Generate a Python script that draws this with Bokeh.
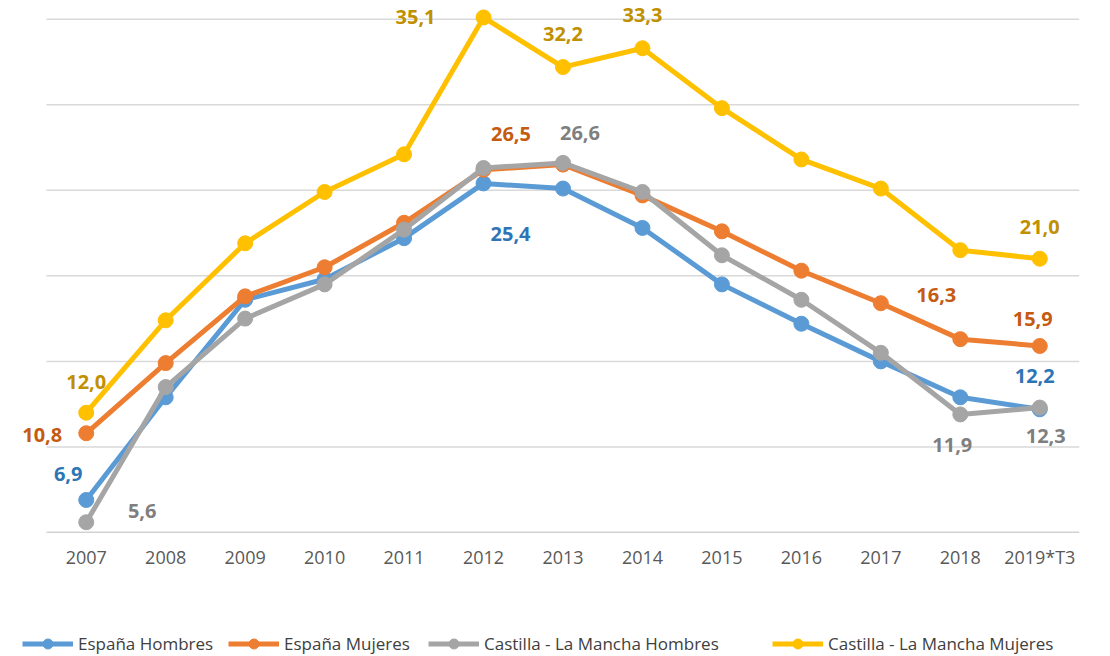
from bokeh.plotting import figure
from bokeh.layouts import column
from bokeh.models import (Range1d, FixedTicker, Legend, LegendItem, ColumnDataSource,
                          LabelSet)
from bokeh.core.properties import value
from bokeh.embed import file_html
from bokeh.resources import INLINE

years = ["2007", "2008", "2009", "2010", "2011", "2012", "2013",
         "2014", "2015", "2016", "2017", "2018", "2019*T3"]

espana_hombres = [6.9, 12.9, 18.6, 19.8, 22.2, 25.4, 25.1, 22.8, 19.5, 17.2, 15.0, 12.9, 12.2]
espana_mujeres = [10.8, 14.9, 18.8, 20.5, 23.1, 26.2, 26.5, 24.7, 22.6, 20.3, 18.4, 16.3, 15.9]
clm_hombres = [5.6, 13.5, 17.5, 19.5, 22.7, 26.3, 26.6, 24.9, 21.2, 18.6, 15.5, 11.9, 12.3]
clm_mujeres = [12.0, 17.4, 21.9, 24.9, 27.1, 35.1, 32.2, 33.3, 29.8, 26.8, 25.1, 21.5, 21.0]

series_names = ["España Hombres", "España Mujeres",
                "Castilla - La Mancha Hombres", "Castilla - La Mancha Mujeres"]
series_values = [espana_hombres, espana_mujeres, clm_hombres, clm_mujeres]
line_colors = ["#5B9BD5", "#ED7D31", "#A5A5A5", "#FFC000"]
label_colors = ["#2E75B6", "#C55A11", "#7F7F7F", "#BF9000"]

# data labels: (series index, year index, x offset px, y offset px)
labels = [
    (3, 0, 0, -31), (1, 0, -44, 2), (0, 0, -18, -26), (2, 0, 56, -11),
    (3, 5, -68, 0), (3, 6, 0, -33), (3, 7, 0, -33),
    (1, 6, -52, -31), (2, 6, 17, -30), (0, 5, 27, 51),
    (3, 12, 0, -32), (1, 11, -24, -44), (1, 12, -7, -27),
    (0, 12, -5, -33), (2, 11, -8, 31), (2, 12, 6, 28),
]

xs = list(range(len(years)))
BAND = 79.46          # px per category
LEFT = 46             # px left of first band

p = figure(width=1094, height=576, output_backend="svg", toolbar_location=None,
           x_range=Range1d(-0.5 - LEFT / BAND, len(years) - 0.5),
           y_range=Range1d(5, 36.09),
           min_border_left=0, min_border_right=15, min_border_top=0,
           min_border_bottom=44)
p.outline_line_color = None
p.background_fill_color = "white"
p.border_fill_color = "white"

p.yaxis.visible = False
p.ygrid.grid_line_color = None
p.xgrid.grid_line_color = None

# horizontal gridlines spanning the category area only
grid_vals = [10, 15, 20, 25, 30, 35]
p.segment(x0=[-0.5] * len(grid_vals), x1=[len(years) - 0.5] * len(grid_vals),
          y0=grid_vals, y1=grid_vals, line_color="#D9D9D9", line_width=1.5)
p.segment(x0=[-0.5], x1=[len(years) - 0.5], y0=[5], y1=[5],
          line_color="#A6A6A6", line_width=1.5)

p.xaxis.axis_line_color = None
p.xaxis.major_tick_line_color = None
p.xaxis.minor_tick_line_color = None
p.xaxis.ticker = FixedTicker(ticks=xs)
p.xaxis.major_label_overrides = {i: y for i, y in enumerate(years)}
p.xaxis.major_label_text_font = "Open Sans"
p.xaxis.major_label_text_font_size = "18px"
p.xaxis.major_label_text_color = "#595959"
p.xaxis.major_label_standoff = 6

sources = []
for vals, col in zip(series_values, line_colors):
    src = ColumnDataSource(dict(x=xs, y=vals))
    sources.append(src)
    p.line("x", "y", source=src, line_color=col, line_width=5, line_join="round")
    p.scatter("x", "y", source=src, size=15, fill_color=col, line_color=col)

lab_src = ColumnDataSource(dict(
    x=[xs[yi] for si, yi, dx, dy in labels],
    y=[series_values[si][yi] for si, yi, dx, dy in labels],
    text=[f"{series_values[si][yi]:.1f}".replace(".", ",") for si, yi, dx, dy in labels],
    dx=[dx for si, yi, dx, dy in labels],
    dy=[-dy for si, yi, dx, dy in labels],
    color=[label_colors[si] for si, yi, dx, dy in labels],
))
p.add_layout(LabelSet(x="x", y="y", text="text", x_offset="dx", y_offset="dy",
                      source=lab_src, text_align="center", text_baseline="middle",
                      text_font=value("Open Sans"), text_font_style="bold",
                      text_font_size="20px", text_color="color"))

# legend strip (series drawn outside its visible range; only the legend shows)
q = figure(width=1094, height=80, output_backend="svg", toolbar_location=None,
           x_range=Range1d(0, 1), y_range=Range1d(0, 1),
           min_border_left=0, min_border_right=0, min_border_top=0, min_border_bottom=0)
q.axis.visible = False
q.grid.visible = False
q.outline_line_color = None
legend_x = [22, 228, 428, 772]
for name, col, src, lx in zip(series_names, line_colors, sources, legend_x):
    l = q.line("x", "y", source=src, line_color=col, line_width=5)
    c = q.scatter("x", "y", source=src, size=11, fill_color=col, line_color=col)
    q.add_layout(Legend(items=[LegendItem(label=name, renderers=[l, c])],
                        location=(lx, 0), orientation="horizontal",
                        glyph_width=51, glyph_height=25, label_standoff=5,
                        padding=0, margin=0, border_line_color=None,
                        background_fill_alpha=0,
                        label_text_font="Open Sans", label_text_font_size="17px",
                        label_text_color="#404040"), "center")

layout = column(p, q, spacing=0)
open("out.html", "w").write(file_html(layout, INLINE))
